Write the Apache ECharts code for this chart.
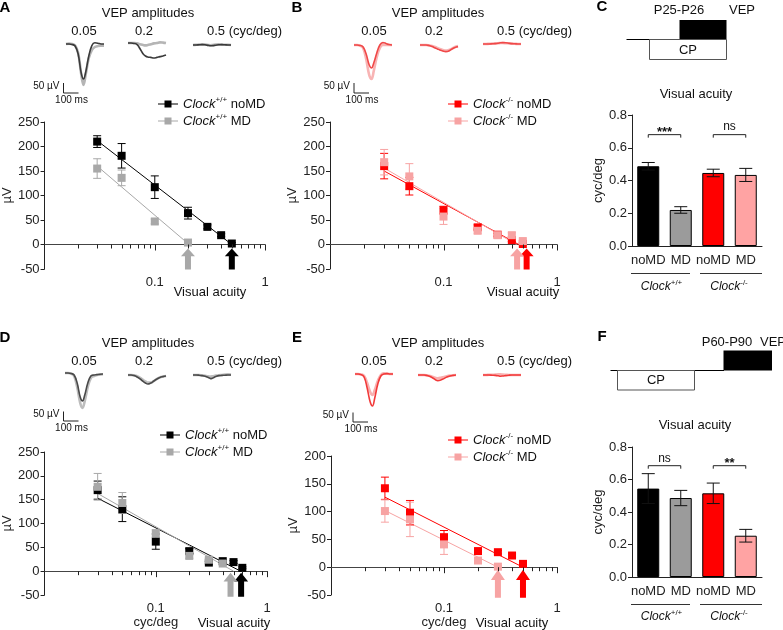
<!DOCTYPE html>
<html><head><meta charset="utf-8">
<script src="https://cdn.jsdelivr.net/npm/echarts@6/dist/echarts.min.js"></script>
<style>html,body{margin:0;padding:0;background:#fff}#c{width:783px;height:630px}</style>
</head><body><div id="c"></div><script>
const FONT = '"Liberation Sans", Arial, Helvetica, sans-serif';

// ---------------- Tick values ----------------
const majorTicks = [0.1,1];
const minorTicks = [0.02,0.03,0.04,0.05,0.06,0.07,0.08,0.09,0.2,0.3,0.4,0.5,0.6,0.7,0.8,0.9];
const barCats = ['noMD','MD','noMD','MD'];

// ---------------- Panel A (Clock+/+, P25-26) ----------------
const A_noMD_x = [0.03,0.05,0.1,0.2,0.3,0.4,0.5];
const A_noMD_y = [210,181,117,64,36,19,2];
const A_noMD_e = [12,25,23,12,4,3,2];
const A_MD_x = [0.03,0.05,0.1,0.2];
const A_MD_y = [155,136,47,4];
const A_MD_e = [20,16,5,3];
const A_noMD_fitX = [0.03,0.5], A_noMD_fitY = [212,0];
const A_MD_fitX = [0.03,0.205], A_MD_fitY = [160,0];
const A_acuity = [0.5,0.2];

// ---------------- Panel B (Clock-/-, P25-26) ----------------
const B_noMD_x = [0.03,0.05,0.1,0.2,0.3,0.4,0.5];
const B_noMD_y = [160,119,70,35,20,9,1];
const B_noMD_e = [26,18,8,5,3,3,2];
const B_MD_x = [0.03,0.05,0.1,0.2,0.3,0.4,0.5];
const B_MD_y = [168,139,57,28,19,19,7];
const B_MD_e = [26,26,16,5,3,5,4];
const B_noMD_fitX = [0.03,0.46], B_noMD_fitY = [150,0];
const B_MD_fitX = [0.03,0.44], B_MD_fitY = [156,0];
const B_acuity = [0.54,0.445];

// ---------------- Panel D (Clock+/+, P60-90) ----------------
const D_noMD_x = [0.03,0.05,0.1,0.2,0.3,0.4,0.5,0.6];
const D_noMD_y = [170,130,62,42,18,21,19,7];
const D_noMD_e = [19,26,16,5,3,3,3,2];
const D_MD_x = [0.03,0.05,0.1,0.2,0.3,0.4];
const D_MD_y = [177,143,79,32,24,16];
const D_MD_e = [28,22,8,5,4,3];
const D_noMD_fitX = [0.03,0.58], D_noMD_fitY = [153,0];
const D_MD_fitX = [0.03,0.5], D_MD_fitY = [163,0];
const D_acuity = [0.585,0.47];

// ---------------- Panel E (Clock-/-, P60-90) ----------------
const E_noMD_x = [0.03,0.05,0.1,0.2,0.3,0.4,0.5];
const E_noMD_y = [142,98,54,29,27,21,6];
const E_noMD_e = [20,22,12,3,3,3,2];
const E_MD_x = [0.03,0.05,0.1,0.2,0.3];
const E_MD_y = [101,86,41,12,1];
const E_MD_e = [20,31,18,4,2];
const E_noMD_fitX = [0.03,0.5], E_noMD_fitY = [126,0];
const E_MD_fitX = [0.03,0.3], E_MD_fitY = [102,0];
const E_acuity = [0.5,0.3];

// ---------------- Bars (visual acuity, cyc/deg) ----------------
const C_val = [0.487,0.22,0.446,0.434];
const C_err = [0.023,0.02,0.023,0.04];
const C_sig = ['***','ns'];
const F_val = [0.544,0.486,0.515,0.254];
const F_err = [0.092,0.047,0.063,0.039];
const F_sig = ['ns','**'];
const sigPairs = [[0,1],[2,3]];

// ---------------- VEP traces (time ms, µV) for 0.05 / 0.2 / 0.5 cyc/deg ----------------
const vepT = [0,20,40,60,80,100,115,130,150,170,190,210,230,250];
const vepA_noMD = [
  [0,0,-2,-10,-50,-145,-175,-140,-60,-8,6,4,0,0],
  [0,0,-2,-8,-30,-55,-65,-70,-72,-75,-72,-68,-65,-60],
  [0,0,1,2,1,-2,-4,-3,-1,1,2,1,0,0]];
const vepA_MD = [
  [0,2,0,-8,-45,-150,-205,-150,-70,-30,-15,-10,-8,-8],
  [0,0,0,-2,-6,-10,-12,-10,-6,-2,0,3,2,0],
  [0,1,2,3,2,0,-1,0,2,3,2,1,1,0]];
const vepB_noMD = [
  [0,0,-2,-10,-45,-100,-115,-90,-40,0,12,8,2,0],
  [0,0,0,-3,-8,-15,-20,-25,-30,-33,-30,-20,-12,-8],
  [0,0,0,1,2,4,6,7,6,4,2,1,0,0]];
const vepB_MD = [
  [0,0,-3,-15,-70,-150,-170,-130,-60,-15,0,0,0,0],
  [0,0,0,-2,-5,-10,-15,-20,-25,-28,-25,-18,-10,-5],
  [0,0,1,2,3,4,5,5,4,3,2,1,0,0]];
const vepD_noMD = [
  [0,0,-2,-10,-50,-120,-140,-110,-50,-15,-10,-8,-6,-5],
  [0,0,-3,-10,-20,-32,-40,-45,-40,-30,-20,-12,-8,-5],
  [0,0,-1,-3,-6,-12,-18,-15,-8,-3,-2,-1,0,0]];
const vepD_MD = [
  [0,0,-3,-15,-70,-150,-175,-140,-70,-25,-15,-10,-8,-6],
  [0,0,-2,-6,-14,-25,-32,-38,-38,-30,-20,-12,-8,-5],
  [0,0,0,-2,-4,-6,-8,-6,-3,-1,0,2,3,2]];
const vepE_noMD = [
  [0,0,-3,-15,-70,-140,-160,-120,-50,-10,0,2,0,0],
  [0,0,0,-3,-8,-16,-24,-28,-25,-18,-10,-5,-2,0],
  [0,0,0,-1,-2,-4,-6,-5,-3,-1,0,0,0,0]];
const vepE_MD = [
  [0,0,-2,-10,-45,-90,-105,-80,-35,-5,3,2,0,0],
  [0,0,0,-2,-5,-10,-14,-16,-14,-10,-6,-3,-1,0],
  [0,0,1,1,2,3,3,2,1,0,0,0,0,0]];

// ================= build =================
const zip = (a, b) => a.map((v, i) => [v, b[i]]);
const ARROW = 'path://M7,0L14,8L10,8L10,22L4,22L4,8L0,8Z';
const LEG_ICON = 'path://M0,3.5H20V4.5H0Z M6.5,0.5H13.5V7.5H6.5Z';
const WT = '{i|Clock}{s|+/+}', KO = '{i|Clock}{s|-/-}';
const richSup = (fs) => ({
  i: {fontStyle:'italic', fontSize:fs, fontFamily:FONT, lineHeight:16},
  s: {fontSize:8, fontFamily:FONT, lineHeight:6, verticalAlign:'top'}
});
const BLACK='#000', GRAY='#a8a8a8', RED='#ff0000', PINK='#f7a3a3';

const panels = [
  {grid:{left:40,top:122,width:225,height:147}, ymax:250, leg:{left:153,top:91}, xName:'', arrowH:21, arrowOff:14.5,
   groups:[
    {key:'A_noMD', label:WT+' noMD', color:BLACK, x:A_noMD_x, y:A_noMD_y, e:A_noMD_e, fx:A_noMD_fitX, fy:A_noMD_fitY, ac:A_acuity[0]},
    {key:'A_MD', label:WT+' MD', color:GRAY, x:A_MD_x, y:A_MD_y, e:A_MD_e, fx:A_MD_fitX, fy:A_MD_fitY, ac:A_acuity[1]}]},
  {grid:{left:330,top:122,width:227,height:147}, ymax:250, leg:{left:443,top:91}, xName:'', arrowH:21, arrowOff:14.5,
   groups:[
    {key:'B_noMD', label:KO+' noMD', color:RED, x:B_noMD_x, y:B_noMD_y, e:B_noMD_e, fx:B_noMD_fitX, fy:B_noMD_fitY, ac:B_acuity[0]},
    {key:'B_MD', label:KO+' MD', color:PINK, x:B_MD_x, y:B_MD_y, e:B_MD_e, fx:B_MD_fitX, fy:B_MD_fitY, ac:B_acuity[1]}]},
  {grid:{left:40,top:452,width:227,height:149}, ymax:250, leg:{left:155,top:422}, xName:'cyc/deg', arrowH:24, arrowOff:13.5,
   groups:[
    {key:'D_noMD', label:WT+' noMD', color:BLACK, x:D_noMD_x, y:D_noMD_y, e:D_noMD_e, fx:D_noMD_fitX, fy:D_noMD_fitY, ac:D_acuity[0]},
    {key:'D_MD', label:WT+' MD', color:GRAY, x:D_MD_x, y:D_MD_y, e:D_MD_e, fx:D_MD_fitX, fy:D_MD_fitY, ac:D_acuity[1]}]},
  {grid:{left:331,top:456,width:226,height:152}, ymax:200, leg:{left:443,top:427}, xName:'cyc/deg', arrowH:28, arrowOff:16.5,
   groups:[
    {key:'E_noMD', label:KO+' noMD', color:RED, x:E_noMD_x, y:E_noMD_y, e:E_noMD_e, fx:E_noMD_fitX, fy:E_noMD_fitY, ac:E_acuity[0]},
    {key:'E_MD', label:KO+' MD', color:PINK, x:E_MD_x, y:E_MD_y, e:E_MD_e, fx:E_MD_fitX, fy:E_MD_fitY, ac:E_acuity[1]}]}
];

const labelMap = {};
panels.forEach(p => p.groups.forEach(g => labelMap[g.key] = g.label));

function errRender(color, hw) {
  return function (params, api) {
    const x = api.value(0), y = api.value(1), e = api.value(2);
    const t = api.coord([x, y + e]), b = api.coord([x, y - e]);
    const st = {stroke: color, lineWidth: 1};
    return {type:'group', children:[
      {type:'line', shape:{x1:t[0], y1:t[1], x2:b[0], y2:b[1]}, style:st},
      {type:'line', shape:{x1:t[0]-hw, y1:t[1], x2:t[0]+hw, y2:t[1]}, style:st},
      {type:'line', shape:{x1:b[0]-hw, y1:b[1], x2:b[0]+hw, y2:b[1]}, style:st}
    ]};
  };
}
// tick marks hanging below the zero line, placed through the log scale
function tickRender(len) {
  return function (params, api) {
    const p = api.coord([api.value(0), 0]);
    const x = Math.round(p[0]) + 0.5;
    return {type:'group', children:[
      {type:'line', shape:{x1:x, y1:p[1], x2:x, y2:p[1] + len}, style:{stroke:'#222', lineWidth:1}}
    ]};
  };
}
function bracketRender(labels, level) {
  return function (params, api) {
    const a = api.coord([api.value(0), level]), b = api.coord([api.value(1), level]);
    const lab = labels[params.dataIndex];
    const star = lab.indexOf('*') >= 0;
    return {type:'group', children:[
      {type:'polyline', shape:{points:[[a[0],a[1]+3],[a[0],a[1]],[b[0],b[1]],[b[0],b[1]+3]]}, style:{stroke:'#222', lineWidth:1, fill:null}},
      {type:'text', x:(a[0]+b[0])/2, y:a[1] - (star ? 2.5 : 7.5),
       style:{text:lab, font:(star ? 'bold 13px ' : '12px ') + FONT, fill:'#111', align:'center', verticalAlign:'middle'}}
    ]};
  };
}

const grid = [], xAxis = [], yAxis = [], series = [], legend = [];
const axisTxt = {color:'#222', fontSize:13, fontFamily:FONT};

panels.forEach(p => {
  const gi = grid.length; grid.push(p.grid);
  const xi = xAxis.length, yi = yAxis.length;
  xAxis.push({type:'log', logBase:10, gridIndex:gi, min:0.01, max:1, position:'bottom',
    axisLine:{onZero:true, lineStyle:{color:'#444', width:1}},
    axisTick:{show:false},
    axisLabel:Object.assign({margin:7, formatter: v => Math.abs(v-0.1) < 1e-6 ? '0.1' : (Math.abs(v-1) < 1e-6 ? '1' : '')}, axisTxt),
    splitLine:{show:false},
    name:p.xName, nameLocation:'middle', nameGap:21, nameTextStyle:axisTxt});
  yAxis.push({type:'value', gridIndex:gi, min:-50, max:p.ymax, interval:50, position:'left',
    axisLine:{show:true, onZero:false, lineStyle:{color:'#222'}},
    axisTick:{show:true, length:4, lineStyle:{color:'#222'}},
    axisLabel:Object.assign({margin:5}, axisTxt), splitLine:{show:false},
    name:'\u00b5V', nameLocation:'middle', nameGap:26, nameTextStyle:axisTxt});
  series.push({type:'custom', xAxisIndex:xi, yAxisIndex:yi, data:majorTicks.map(v => [v, 0, 1]),
    renderItem:tickRender(6), silent:true, clip:false, z:6});
  series.push({type:'custom', xAxisIndex:xi, yAxisIndex:yi, data:minorTicks.map(v => [v, 0, 1]),
    renderItem:tickRender(4), silent:true, clip:false, z:6});
  p.groups.forEach(g => {
    series.push({type:'line', xAxisIndex:xi, yAxisIndex:yi, data:zip(g.fx, g.fy), symbol:'none', showSymbol:false,
      lineStyle:{color:g.color, width:1}, itemStyle:{color:g.color}, silent:true, z:2});
    series.push({type:'custom', xAxisIndex:xi, yAxisIndex:yi, data:g.x.map((x, i) => [x, g.y[i], g.e[i]]),
      renderItem:errRender(g.color, 4), silent:true, z:3});
    series.push({type:'scatter', name:g.key, xAxisIndex:xi, yAxisIndex:yi, data:zip(g.x, g.y), symbol:'rect', symbolSize:8,
      itemStyle:{color:g.color, opacity:1}, z:4});
    series.push({type:'scatter', xAxisIndex:xi, yAxisIndex:yi, data:[[g.ac, 0]], symbol:ARROW,
      symbolSize:[14, p.arrowH], symbolOffset:[0, p.arrowOff], itemStyle:{color:g.color, opacity:1}, silent:true, z:5});
  });
  legend.push({left:p.leg.left, top:p.leg.top, orient:'vertical', itemWidth:20, itemHeight:7, itemGap:1, selectedMode:false,
    data:p.groups.map(g => ({name:g.key, icon:LEG_ICON, itemStyle:{color:g.color}})),
    formatter: name => labelMap[name],
    textStyle:{fontSize:13, fontFamily:FONT, color:'#111', lineHeight:16, rich:richSup(13)}});
});

// bar charts
const barColors = ['#000000','#9b9b9b','#ff0000','#ffa3a3'];
const barPanels = [
  {grid:{left:632, top:115, width:130, height:131}, v:C_val, e:C_err, sig:C_sig, level:0.68},
  {grid:{left:632, top:447, width:130, height:130}, v:F_val, e:F_err, sig:F_sig, level:0.685}
];
barPanels.forEach(b => {
  const gi = grid.length; grid.push(b.grid);
  const xi = xAxis.length, yi = yAxis.length;
  xAxis.push({type:'category', gridIndex:gi, data:barCats, position:'bottom',
    axisLine:{lineStyle:{color:'#222'}}, axisTick:{alignWithLabel:true, length:4, lineStyle:{color:'#222'}},
    axisLabel:Object.assign({margin:8, interval:0}, axisTxt)});
  yAxis.push({type:'value', gridIndex:gi, min:0, max:0.8, interval:0.2,
    axisLine:{show:true, lineStyle:{color:'#222'}}, axisTick:{show:true, length:4, lineStyle:{color:'#222'}},
    axisLabel:Object.assign({margin:5, formatter: v => v.toFixed(1)}, axisTxt), splitLine:{show:false},
    name:'cyc/deg', nameLocation:'middle', nameGap:27, nameTextStyle:axisTxt});
  series.push({type:'bar', xAxisIndex:xi, yAxisIndex:yi, barWidth:22,
    data:b.v.map((v, i) => ({value:v, itemStyle:{color:barColors[i], borderColor:'#000', borderWidth:1}})), z:2});
  series.push({type:'custom', xAxisIndex:xi, yAxisIndex:yi, data:b.v.map((v, i) => [i, v, b.e[i]]),
    renderItem:errRender('#111', 6.5), silent:true, z:3});
  series.push({type:'custom', xAxisIndex:xi, yAxisIndex:yi, data:sigPairs.map(s => [s[0], s[1]]),
    renderItem:bracketRender(b.sig, b.level), silent:true, z:3});
});

// waveform mini-plots
const wfPanels = [
  {x:[66,128,193], base:[44,43,45], noMD:vepA_noMD, MD:vepA_MD, cN:'#3a3a3a', cM:'#b5b5b5'},
  {x:[354,420,483], base:[45,45,44], noMD:vepB_noMD, MD:vepB_MD, cN:'#f04848', cM:'#f8b4b4'},
  {x:[65,128,193], base:[373,375,375], noMD:vepD_noMD, MD:vepD_MD, cN:'#4a4a4a', cM:'#bdbdbd'},
  {x:[355,418,483], base:[374,375,375], noMD:vepE_noMD, MD:vepE_MD, cN:'#f23a3a', cM:'#f8b0b0'}
];
wfPanels.forEach(w => {
  for (let k = 0; k < 3; k++) {
    const gi = grid.length;
    grid.push({left:w.x[k], top:w.base[k] - 6, width:38, height:50});
    const xi = xAxis.length, yi = yAxis.length;
    xAxis.push({type:'value', gridIndex:gi, min:0, max:250, show:false});
    yAxis.push({type:'value', gridIndex:gi, min:-220, max:30, show:false});
    series.push({type:'line', xAxisIndex:xi, yAxisIndex:yi, data:zip(vepT, w.MD[k]), showSymbol:false, symbol:'none',
      smooth:0.4, lineStyle:{color:w.cM, width:2.6}, silent:true, z:2});
    series.push({type:'line', xAxisIndex:xi, yAxisIndex:yi, data:zip(vepT, w.noMD[k]), showSymbol:false, symbol:'none',
      smooth:0.4, lineStyle:{color:w.cN, width:1.6}, silent:true, z:3});
  }
});

// ---------------- graphic annotations ----------------
const G = [];
function T(x, y, text, o) {
  o = o || {};
  G.push({type:'text', x:x, y:y, silent:true, style:{text:text, fill:o.fill || '#111',
    font:(o.w || '') + ' ' + (o.s || 13) + 'px ' + FONT, align:o.a || 'center', verticalAlign:'middle',
    rich:o.rich}});
}
function L(x1, y1, x2, y2, c) {
  G.push({type:'line', silent:true, shape:{x1:x1, y1:y1, x2:x2, y2:y2}, style:{stroke:c || '#222', lineWidth:1}});
}
// panel letters
[['A',5,8],['B',297,8],['C',602,7],['D',5,338],['E',297,338],['F',602,337]].forEach(l => T(l[1], l[2], l[0], {w:'bold', s:15, fill:'#000'}));
// VEP headers
[[0,13,31],[290,13,31],[0,343,361],[290,343,361]].forEach(h => {
  const dx = h[0];
  T(148+dx, h[1], 'VEP amplitudes');
  T(84+dx, h[2], '0.05');
  T(144+dx, h[2], '0.2');
  T(207+dx, h[2], '0.5 (cyc/deg)', {a:'left'});
});
// scale bars
[[63.5,83,93],[354,83,93],[63.5,411.5,421],[353,412.5,422]].forEach(s => {
  G.push({type:'polyline', silent:true, shape:{points:[[s[0],s[1]],[s[0],s[2]],[s[0]+15,s[2]]]}, style:{stroke:'#222', lineWidth:1, fill:null}});
  T(s[0]-4, s[1]+3, '50 \u00b5V', {a:'right', s:10});
  T(s[0]+8, s[2]+7, '100 ms', {s:10});
});
// "Visual acuity" under arrows
[[210,292],[523,292],[234,623],[512,623]].forEach(v => T(v[0], v[1], 'Visual acuity'));
// timeline C
T(679, 10, 'P25-P26'); T(742, 10, 'VEP');
G.push({type:'rect', silent:true, shape:{x:679.5, y:20, width:47, height:19.5}, style:{fill:'#000'}});
L(626.5, 39.5, 680, 39.5, '#000');
G.push({type:'rect', silent:true, shape:{x:649.5, y:39.5, width:77, height:20}, style:{fill:'#fff', stroke:'#555', lineWidth:1}});
T(688, 50, 'CP');
// timeline F
T(727, 342, 'P60-P90'); T(760, 342, 'VEP', {a:'left'});
G.push({type:'rect', silent:true, shape:{x:723.5, y:350.5, width:48.5, height:20}, style:{fill:'#000'}});
L(610.5, 370.5, 724, 370.5, '#000');
G.push({type:'rect', silent:true, shape:{x:617.5, y:370.5, width:77, height:19.5}, style:{fill:'#fff', stroke:'#555', lineWidth:1}});
T(656, 380.5, 'CP');
// bar titles and group labels
T(696, 94.5, 'Visual acuity'); T(695, 425, 'Visual acuity');
[[273.5,287],[604.5,617]].forEach(r => {
  L(631, r[0], 690, r[0], '#333'); L(700, r[0], 762, r[0], '#333');
  T(661.5, r[1], WT, {s:12, rich:richSup(12)});
  T(729, r[1], KO, {s:12, rich:richSup(12)});
});

const chart = echarts.init(document.getElementById('c'), null, {renderer:'canvas'});
chart.setOption({
  animation:false,
  backgroundColor:'#fff',
  textStyle:{fontFamily:FONT},
  grid:grid, xAxis:xAxis, yAxis:yAxis, legend:legend, series:series,
  graphic:{elements:G}
});
</script></body></html>
